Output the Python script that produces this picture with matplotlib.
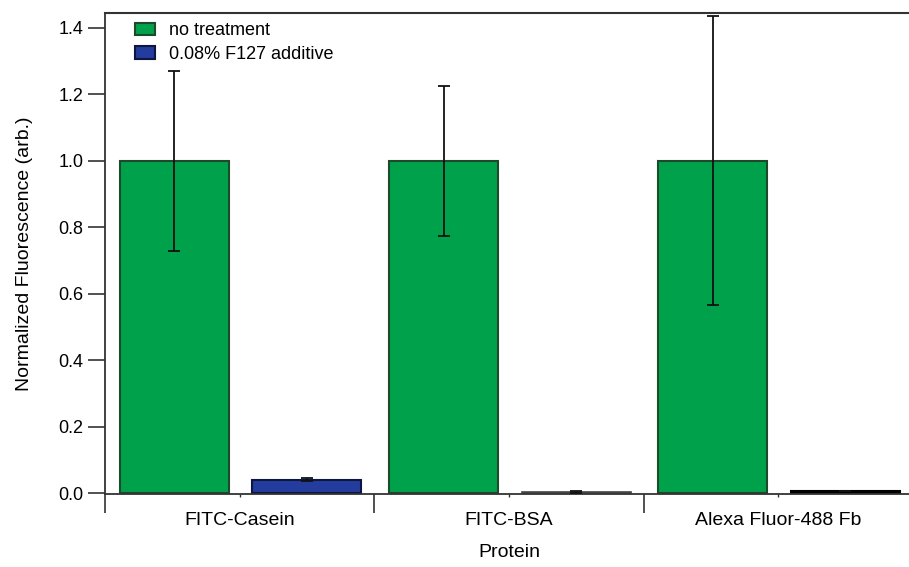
import matplotlib
matplotlib.use("Agg")
import matplotlib.pyplot as plt
import numpy as np
from matplotlib.patches import Patch

categories = ["FITC-Casein", "FITC-BSA", "Alexa Fluor-488 Fb"]
no_treatment = [1.0, 1.0, 1.0]
no_treatment_err = [0.27, 0.225, 0.435]
f127 = [0.040, 0.003, 0.006]
f127_err = [0.004, 0.002, 0.0]
series_labels = ["no treatment", "0.08% F127 additive"]
yticks = [0.0, 0.2, 0.4, 0.6, 0.8, 1.0, 1.2, 1.4]

plt.rcParams['font.family'] = ['Liberation Sans', 'DejaVu Sans']

fig = plt.figure(figsize=(9.09, 5.67), dpi=100)
ax = fig.add_axes([105/909, 1 - 494/567, 808/909, (494 - 13)/567])

green = '#00A14B'
green_edge = '#1E4A2C'
blue = '#233C9E'
blue_edge = '#0E1540'

x = np.arange(len(categories))
w = 0.405
c1 = x + 0.257
c2 = x + 0.749

ax.bar(c1, no_treatment, width=w, color=green, edgecolor=green_edge, linewidth=1.5, zorder=2)
ax.errorbar(c1, no_treatment, yerr=no_treatment_err, fmt='none', ecolor='#111111',
            elinewidth=1.3, capsize=4.5, capthick=1.3, zorder=3)
bars2 = ax.bar(c2, f127, width=w, color=blue, edgecolor=blue_edge, linewidth=1.5, zorder=2)
bars2[1].set_facecolor('#e8e8e8')
bars2[1].set_edgecolor('#444444')
bars2[1].set_linewidth(1.2)
bars2[2].set_facecolor('#000000')
bars2[2].set_edgecolor('#000000')
ax.errorbar(c2, f127, yerr=f127_err, fmt='none', ecolor='#111111',
            elinewidth=1.3, capsize=4, capthick=1.3, zorder=3)

ax.set_xlim(0, 3)
ax.set_ylim(-0.003, 1.445)

for s in ['top', 'right']:
    ax.spines[s].set_visible(False)
ax.spines['left'].set_color('#333333')
ax.spines['bottom'].set_color('#333333')
ax.spines['left'].set_linewidth(1.3)
ax.spines['bottom'].set_linewidth(1.3)
ax.axhline(1.445, color='#333333', lw=1.5, clip_on=False)

ax.set_yticks(yticks)
ax.set_yticklabels([f"{v:.1f}" for v in yticks])
ax.tick_params(axis='y', direction='out', length=12, width=1.2, pad=3.5, labelsize=13, color='#333333')

ax.set_xticks([0, 1, 2, 3])
ax.set_xticklabels([])
ax.tick_params(axis='x', which='major', direction='out', length=14, width=1.2, color='#333333')
ax.set_xticks(x + 0.5, minor=True)
ax.set_xticklabels(categories, minor=True)
ax.tick_params(axis='x', which='minor', direction='out', length=2, width=1, pad=11, labelsize=14, color='#333333')

ax.set_ylabel("Normalized Fluorescence (arb.)", fontsize=14, labelpad=18)
ax.set_xlabel("Protein", fontsize=14, labelpad=11)

handles = [Patch(facecolor=green, edgecolor=green_edge, linewidth=1.5),
           Patch(facecolor=blue, edgecolor=blue_edge, linewidth=1.5)]
ax.legend(handles, series_labels, loc='upper left', bbox_to_anchor=(0.021, 1.007),
          frameon=False, fontsize=13, handlelength=1.15, handleheight=0.7,
          handletextpad=0.75, labelspacing=0.35, borderaxespad=0.3)

fig.savefig("out.png", dpi=100)
